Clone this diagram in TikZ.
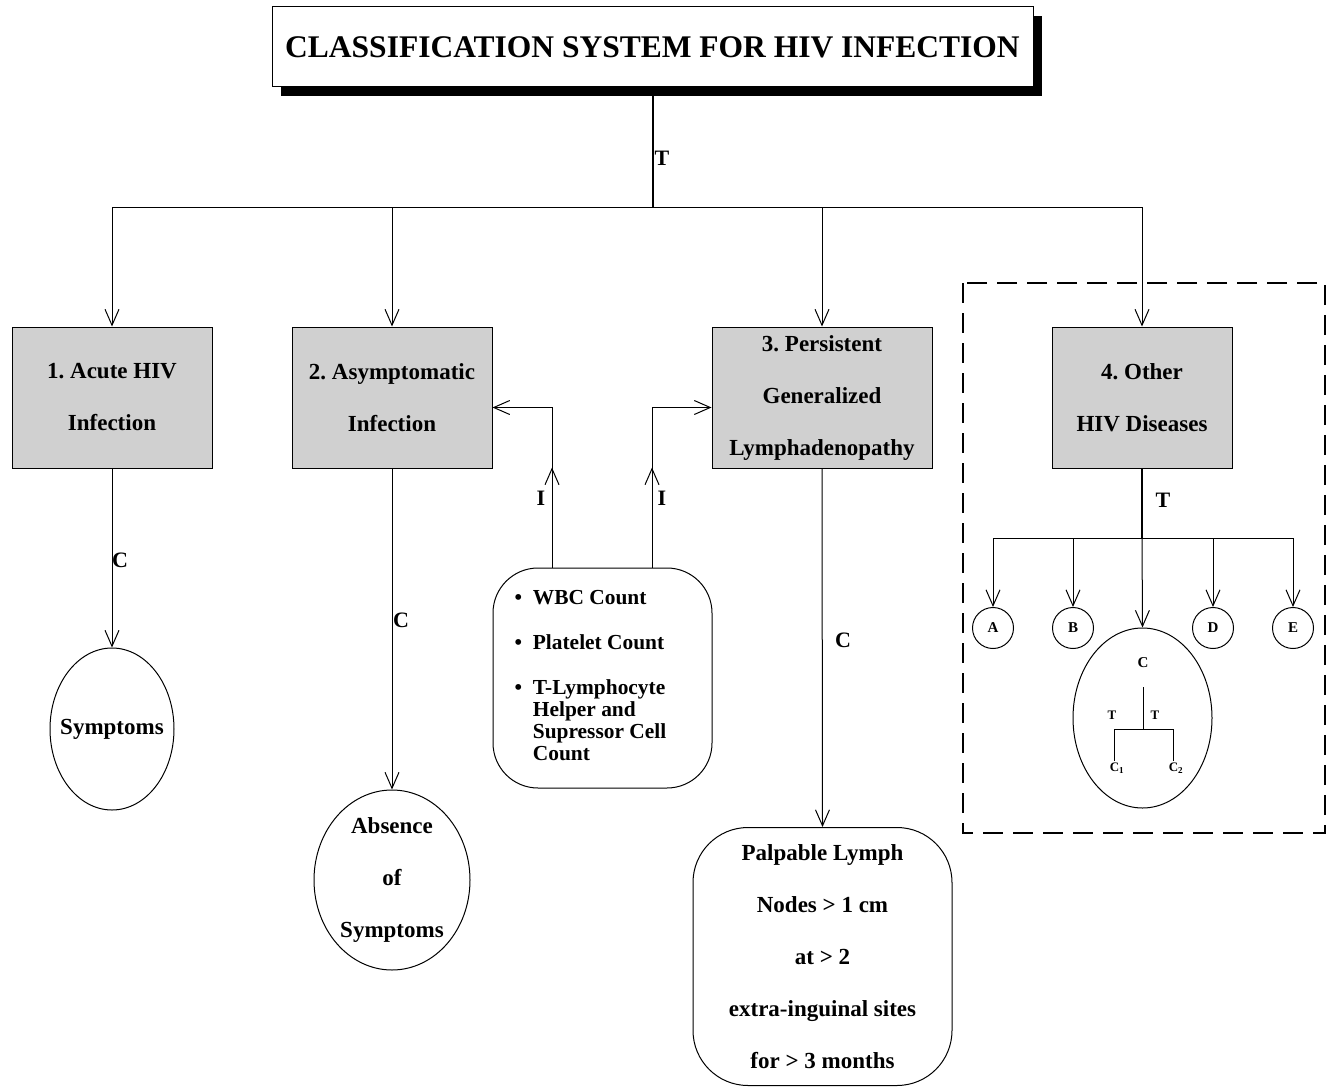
\documentclass[tikz,border=0pt]{standalone}
\usepackage{fontspec}
\setmainfont{Liberation Serif}
\frenchspacing
\usetikzlibrary{shapes.geometric,arrows.meta,decorations.markings,shadows}
\definecolor{stipple}{RGB}{208,208,208}
\tikzstyle{category}=[draw, fill=stipple, minimum width=200pt, minimum height=141pt, inner sep=0pt, align=center, font=\fontsize{23}{52}\selectfont\bfseries]
\tikzstyle{result}=[draw, ellipse, inner sep=0pt, align=center, font=\fontsize{23}{52}\selectfont\bfseries]
\tikzstyle{lab}=[inner sep=1pt, font=\fontsize{22}{22}\selectfont\bfseries]
\tikzstyle{letter}=[draw, circle, minimum size=41pt, inner sep=0pt, font=\fontsize{15}{15}\selectfont\bfseries]
\tikzstyle{sublab}=[inner sep=1pt, font=\fontsize{13}{13}\selectfont\bfseries]
\tikzset{flow/.style={-{Straight Barb[length=16pt,width=14pt]}}}
\tikzset{midflow/.style={decoration={markings, mark=at position 100pt with {\arrow{Straight Barb[length=16pt,width=14pt]}}}, postaction={decorate}}}
\tikzset{trunk/.style={line width=2pt}}

\begin{document}
\begin{tikzpicture}[x=1pt, y=-1pt, line width=1pt]
  \useasboundingbox (0,0) rectangle (1330,1089);
  \draw (652.5,47) node[draw, fill=white, minimum width=761pt, minimum height=80pt,
    drop shadow={shadow xshift=9pt, shadow yshift=-9pt, fill=black, opacity=1},
    font=\fontsize{31.5}{31.5}\selectfont\bfseries] (title) {CLASSIFICATION SYSTEM FOR HIV INFECTION};

  \draw (112,397.5) node[category] (acute) {1. Acute HIV\\Infection};
  \draw (392,397.5) node[category] (asym) {2. Asymptomatic\\Infection};
  \draw (822,397.5) node[category, minimum width=220pt] (pgl) {3. Persistent\\Generalized\\Lymphadenopathy};
  \draw (1142,397.5) node[category, minimum width=180pt] (other) {4. Other\\HIV Diseases};

  \draw (112,729) node[result, minimum width=124pt, minimum height=162pt] (symp) {\makebox[0pt]{Symptoms}};
  \draw (392,880) node[result, minimum width=156pt, minimum height=180pt] (absent) {Absence\\of\\Symptoms};
  \draw (822.5,956.5) node[draw, rounded corners=55pt, minimum width=259pt, minimum height=258pt,
    align=center, font=\fontsize{23}{52}\selectfont\bfseries] (palp)
    {Palpable Lymph\\Nodes > 1 cm\\at > 2\\extra-inguinal sites\\for > 3 months};
  \draw (602.5,678) node[draw, rounded corners=45pt, minimum width=219pt, minimum height=220pt,
    font=\fontsize{21.4}{22}\selectfont\bfseries] (wbc)
    {\hspace*{-24pt}\begin{tabular}{@{}l@{\ \ }l@{}}
      \textbullet & WBC Count\\[23pt]
      \textbullet & Platelet Count\\[23pt]
      \textbullet & T-Lymphocyte\\
                  & Helper and\\
                  & Supressor Cell\\
                  & Count
    \end{tabular}};

  %% Top level tree
  \coordinate (hub) at (652.5,207);
  \draw[trunk] (title.south) -- (hub);
  \draw (662,158) node[lab] (t1) {T};
  \draw[flow] (hub) -| (acute.north);
  \draw[flow] (hub) -| (asym.north);
  \draw[flow] (hub) -| (pgl.north);
  \draw[flow] (hub) -| (other.north);

  \draw[flow] (acute.south) -- (symp.north);
  \draw (120,560) node[lab] (c1lab) {C};
  \draw[flow] (asym.south) -- (absent.north);
  \draw (401,620) node[lab] (c2lab) {C};
  \draw[flow] (pgl.south) -- (palp.north);
  \draw (843,640) node[lab] (c3lab) {C};

  \draw[flow, midflow] ([xshift=-50.5pt]wbc.north) |- ([yshift=-10pt]asym.east);
  \draw[flow, midflow] ([xshift=49.5pt]wbc.north) |- ([yshift=-10pt]pgl.west);
  \draw (541,498) node[lab] (i1) {I};
  \draw (662,498) node[lab] (i2) {I};

  %% Other HIV diseases
  \draw[dash pattern=on 20pt off 10pt, line width=2pt] (963,283) rectangle (1325,833);
  \coordinate (hub2) at (1142,538);
  \draw[trunk] (other.south) -- (hub2);
  \draw (1163,500) node[lab] (t2) {T};

  \draw (993,628) node[letter] (A) {A};
  \draw (1073,628) node[letter] (B) {B};
  \draw (1213,628) node[letter] (D) {D};
  \draw (1293,628) node[letter] (E) {E};
  \draw (1142.5,718) node[draw, ellipse, minimum width=139pt, minimum height=180pt] (C) {};

  \draw[flow] (hub2) -| (A.north);
  \draw[flow] (hub2) -| (B.north);
  \draw[flow] (hub2) -- (C.north);
  \draw[flow] (hub2) -| (D.north);
  \draw[flow] (hub2) -| (E.north);

  %% inside C
  \draw (1143,663) node[letter, draw=none, minimum size=0pt, inner sep=1pt] (cc) {C};
  \coordinate (ctop) at (1143,687);
  \coordinate (cj) at (1143,729);
  \draw (1117,768) node[sublab] (cone) {C\textsubscript{1}};
  \draw (1176,768) node[sublab] (ctwo) {C\textsubscript{2}};
  \draw (ctop) -- (cj);
  \draw (cj) -| ([xshift=-3pt]cone.north);
  \draw (cj) -| ([xshift=-3pt]ctwo.north);
  \draw (1112,715) node[sublab] (ta) {T};
  \draw (1155,715) node[sublab] (tb) {T};
\end{tikzpicture}
\end{document}
